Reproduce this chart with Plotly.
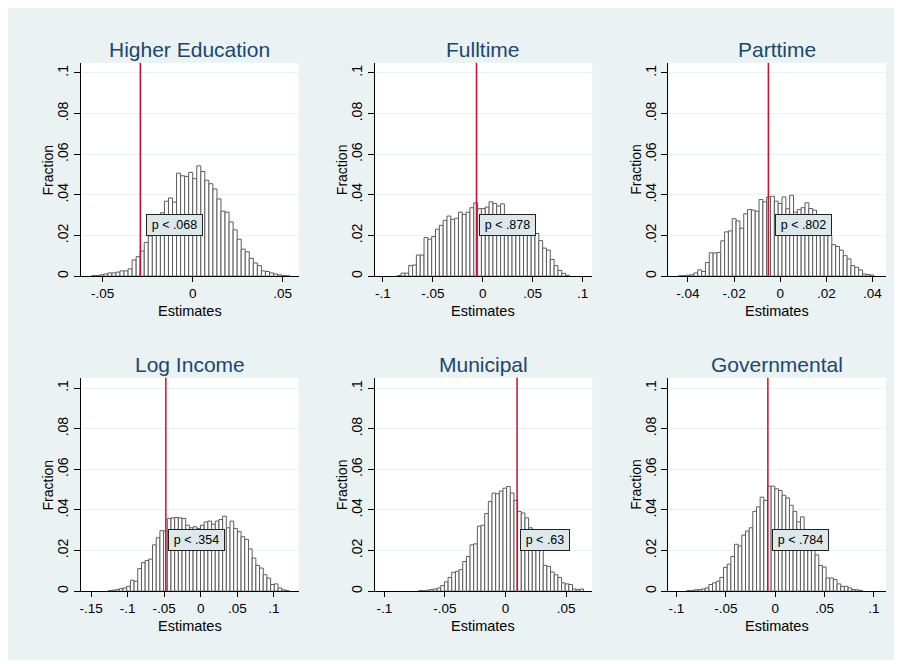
import plotly.graph_objects as go

# ---------------- data ----------------
panel_titles = ["Higher Education", "Fulltime", "Parttime", "Log Income", "Municipal", "Governmental"]

higher_education_fraction = [0.0003, 0.0003, 0.0007, 0.0011, 0.0016, 0.0016, 0.0020, 0.0026, 0.0026, 0.0036,
                             0.0080, 0.0096, 0.0124, 0.0166, 0.0198, 0.0218, 0.0263, 0.0312, 0.0369, 0.0385,
                             0.0364, 0.0507, 0.0494, 0.0491, 0.0511, 0.0480, 0.0543, 0.0515, 0.0472, 0.0455,
                             0.0429, 0.0380, 0.0320, 0.0315, 0.0267, 0.0228, 0.0182, 0.0133, 0.0120, 0.0088,
                             0.0065, 0.0052, 0.0026, 0.0023, 0.0016, 0.0011, 0.0007, 0.0003, 0.0002]
fulltime_fraction = [0.0003, 0.0015, 0.0015, 0.0052, 0.0055, 0.0104, 0.0104, 0.0190, 0.0182, 0.0195,
                     0.0231, 0.0250, 0.0275, 0.0296, 0.0280, 0.0285, 0.0315, 0.0304, 0.0315, 0.0337,
                     0.0361, 0.0332, 0.0333, 0.0340, 0.0366, 0.0358, 0.0345, 0.0356,
                     0.0300, 0.0295, 0.0290, 0.0285, 0.0275, 0.0265, 0.0250, 0.0235, 0.0210,
                     0.0175, 0.0138, 0.0128, 0.0082, 0.0052, 0.0028, 0.0014, 0.0004]
parttime_fraction = [0.0002, 0.0002, 0.0005, 0.0007, 0.0016, 0.0031, 0.0023, 0.0067, 0.0115, 0.0114,
                     0.0117, 0.0174, 0.0218, 0.0223, 0.0283, 0.0272, 0.0236, 0.0307, 0.0328, 0.0325,
                     0.0320, 0.0377, 0.0366, 0.0390, 0.0393, 0.0369, 0.0358, 0.0390, 0.0332, 0.0398,
                     0.0315, 0.0328, 0.0337, 0.0361, 0.0333, 0.0325,
                     0.0290, 0.0260, 0.0230, 0.0200,
                     0.0155, 0.0146, 0.0128, 0.0101, 0.0085, 0.0052, 0.0044, 0.0031, 0.0011, 0.0008, 0.0005]
log_income_fraction = [0.0003, 0.0005, 0.0008, 0.0013, 0.0016, 0.0024, 0.0054, 0.0049, 0.0111, 0.0141,
                       0.0151, 0.0158, 0.0228, 0.0263, 0.0298, 0.0296, 0.0358, 0.0361, 0.0363, 0.0361,
                       0.0358, 0.0325, 0.0312, 0.0317, 0.0309, 0.0325, 0.0341, 0.0345, 0.0330, 0.0345,
                       0.0353, 0.0369, 0.0312, 0.0345, 0.0309, 0.0293, 0.0268, 0.0255, 0.0208, 0.0163,
                       0.0127, 0.0114, 0.0081, 0.0065, 0.0033, 0.0036, 0.0016, 0.0007, 0.0003]
municipal_fraction = [0.0003, 0.0002, 0.0005, 0.0008, 0.0011, 0.0016, 0.0028, 0.0046, 0.0068, 0.0093,
                      0.0098, 0.0106, 0.0146, 0.0171, 0.0228, 0.0233, 0.0320, 0.0325, 0.0382, 0.0442,
                      0.0483, 0.0480, 0.0493, 0.0507, 0.0515, 0.0483, 0.0447, 0.0393, 0.0385, 0.0361,
                      0.0312, 0.0277, 0.0244, 0.0203, 0.0127, 0.0122, 0.0094, 0.0081, 0.0068, 0.0041,
                      0.0036, 0.0033, 0.0011, 0.0008, 0.0011]
governmental_fraction = [0.0003, 0.0003, 0.0007, 0.0008, 0.0011, 0.0016, 0.0033, 0.0041, 0.0049, 0.0068,
                         0.0117, 0.0133, 0.0171, 0.0231, 0.0223, 0.0276, 0.0296, 0.0312, 0.0393, 0.0415,
                         0.0463, 0.0447, 0.0517, 0.0517, 0.0504, 0.0496, 0.0472, 0.0459, 0.0423, 0.0393,
                         0.0341, 0.0366, 0.0293, 0.0260, 0.0228, 0.0179, 0.0127, 0.0119, 0.0065, 0.0065,
                         0.0057, 0.0036, 0.0024, 0.0024, 0.0016, 0.0008, 0.0007, 0.0003]

# histogram bin start and bin width (estimate units)
bin_start = [-0.0561, -0.0856, -0.0440, -0.1266, -0.0715, -0.0894]
bin_width = [0.002245, 0.00383, 0.00166, 0.00505, 0.00302, 0.00371]

# observed estimate (red line) and p-values
observed = [-0.0291, -0.0063, -0.0051, -0.0478, 0.0096, -0.0074]
p_labels = ["p < .068", "p < .878", "p < .802", "p < .354", "p < .63", "p < .784"]

# axis ticks
x_tickvals = [[-0.05, 0, 0.05],
              [-0.1, -0.05, 0, 0.05, 0.1],
              [-0.04, -0.02, 0, 0.02, 0.04],
              [-0.15, -0.1, -0.05, 0, 0.05, 0.1],
              [-0.1, -0.05, 0, 0.05],
              [-0.1, -0.05, 0, 0.05, 0.1]]
x_ticktext = [["-.05", "0", ".05"],
              ["-.1", "-.05", "0", ".05", ".1"],
              ["-.04", "-.02", "0", ".02", ".04"],
              ["-.15", "-.1", "-.05", "0", ".05", ".1"],
              ["-.1", "-.05", "0", ".05"],
              ["-.1", "-.05", "0", ".05", ".1"]]
y_tickvals = [0, 0.02, 0.04, 0.06, 0.08, 0.1]
y_ticktext = ["0", ".02", ".04", ".06", ".08", ".1"]

all_fractions = [higher_education_fraction, fulltime_fraction, parttime_fraction,
                 log_income_fraction, municipal_fraction, governmental_fraction]

# ---------------- layout geometry ----------------
OFF = 8                      # page body margin
W, H = 892, 652
col_px = [(80, 298), (374, 592), (668, 886)]     # window pixel coordinates
row_px = [(63, 277), (379, 593)]
x_ranges = [(-0.0621, 0.0589), (-0.1083, 0.1097), (-0.0485, 0.0459),
            (-0.164, 0.134), (-0.108, 0.0717), (-0.1083, 0.1123)]
y_range = (0, 0.105)
box_xshift = [6, 3, 7, 2, 3, 4]
box_width = [51, 51, 51, 51, 44, 51]


def px(x):
    return (x - OFF) / W


def py(y):
    return 1 - (y - OFF) / H


FONT = "Liberation Sans, Arial, sans-serif"
TITLE_COLOR = "#1A476F"
BG = "#EAF2F3"
RED = "#C8102E"

fig = go.Figure()
annotations = []
shapes = []
layout_axes = {}

for i in range(6):
    r, c = divmod(i, 3)
    n = i + 1
    xs = "" if n == 1 else str(n)
    x0p, x1p = col_px[c]
    y0p, y1p = row_px[r]
    xdom = [px(x0p), px(x1p)]
    ydom = [py(y1p), py(y0p)]
    vals = all_fractions[i]
    centers = [bin_start[i] + bin_width[i] * (k + 0.5) for k in range(len(vals))]
    fig.add_trace(go.Bar(
        x=centers, y=vals, width=bin_width[i],
        marker=dict(color="white", line=dict(color="#5c5c5c", width=1)),
        xaxis="x" + xs, yaxis="y" + xs, showlegend=False, hoverinfo="skip"))

    layout_axes["xaxis" + xs] = dict(
        domain=xdom, range=list(x_ranges[i]), anchor="y" + xs,
        tickmode="array", tickvals=x_tickvals[i], ticktext=x_ticktext[i],
        ticks="outside", ticklen=5, tickcolor="#000", tickwidth=1,
        ticklabelstandoff=0,
        showline=True, linecolor="#000", linewidth=1,
        showgrid=False, zeroline=False,
        tickfont=dict(family=FONT, size=13.5, color="#000"))
    layout_axes["yaxis" + xs] = dict(
        domain=ydom, range=list(y_range), anchor="x" + xs,
        tickmode="array", tickvals=y_tickvals, ticktext=y_ticktext,
        tickangle=-90, ticks="outside", ticklen=6, tickcolor="#000", tickwidth=1,
        showline=True, linecolor="#000", linewidth=1,
        showgrid=True, gridcolor=BG, gridwidth=1, zeroline=False,
        tickfont=dict(family=FONT, size=14, color="#000"))

    # observed estimate line
    shapes.append(dict(type="line", xref="x" + xs, yref="y" + xs + " domain",
                       x0=observed[i], x1=observed[i], y0=0, y1=1,
                       line=dict(color=RED, width=1.5)))
    # p-value box
    annotations.append(dict(
        x=observed[i], y=0.0254, xref="x" + xs, yref="y" + xs,
        xanchor="left", yanchor="middle", xshift=box_xshift[i],
        text=p_labels[i], showarrow=False, width=box_width[i], height=16, align="center",
        font=dict(family=FONT, size=12.5, color="#000"),
        bgcolor="#DCE8EC", bordercolor="#222", borderwidth=1, borderpad=2))

    cx = px((x0p + x1p) / 2)
    title_y = [50, 366][r]
    annotations.append(dict(x=cx, y=py(title_y), xref="paper", yref="paper",
                            text=panel_titles[i], showarrow=False,
                            xanchor="center", yanchor="middle",
                            font=dict(family=FONT, size=21, color=TITLE_COLOR)))
    est_y = [312, 628][r]
    annotations.append(dict(x=cx, y=py(est_y), xref="paper", yref="paper",
                            text="Estimates", showarrow=False,
                            xanchor="center", yanchor="middle",
                            font=dict(family=FONT, size=14.5, color="#000")))
    frac_x = [47, 341, 635][c]
    annotations.append(dict(x=px(frac_x), y=py((y0p + y1p) / 2), xref="paper", yref="paper",
                            text="Fraction", showarrow=False, textangle=-90,
                            xanchor="center", yanchor="middle",
                            font=dict(family=FONT, size=14, color="#000")))

fig.update_layout(
    width=W, height=H,
    margin=dict(l=0, r=0, t=0, b=0),
    paper_bgcolor=BG, plot_bgcolor="white",
    font=dict(family=FONT),
    annotations=annotations, shapes=shapes,
    **layout_axes)

fig.write_html("out.html")
